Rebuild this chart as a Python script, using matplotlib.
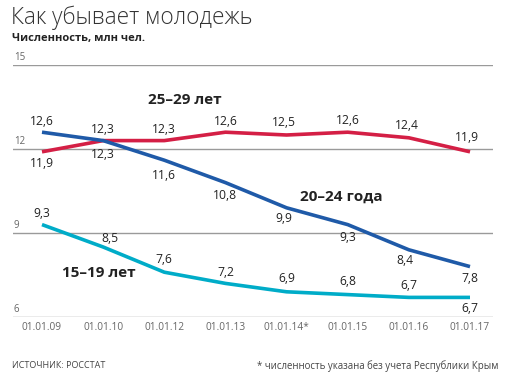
import matplotlib
matplotlib.use("Agg")
import matplotlib.pyplot as plt

dates = ["01.01.09", "01.01.10", "01.01.12", "01.01.13", "01.01.14*", "01.01.15", "01.01.16", "01.01.17"]
age_25_29 = [11.9, 12.3, 12.3, 12.6, 12.5, 12.6, 12.4, 11.9]
age_20_24 = [12.6, 12.3, 11.6, 10.8, 9.9, 9.3, 8.4, 7.8]
age_15_19 = [9.3, 8.5, 7.6, 7.2, 6.9, 6.8, 6.7, 6.7]
yticks = [6, 9, 12, 15]

# label offsets (pixels, dx, dy) - positive dy is up
off_red = [(0, -12), (0, 11), (0, 11), (0, 11), (-3, 13), (0, 12), (-2, 12), (-3, 14)]
off_blue = [(0, 11), (0, -14), (0, -15), (0, -13), (-3, -11), (0, -13), (-4, -11), (0, -12)]
off_cyan = [(0, 11), (7, 9), (0, 13), (0, 11), (0, 13), (0, 13), (0, 12), (0, -11)]

RED = "#d41f45"
BLUE = "#1f5aa8"
CYAN = "#00acc8"
TXT = "#222222"
GRAY = "#666666"

W, H = 506, 380
fig = plt.figure(figsize=(W / 100, H / 100), dpi=100)
fig.patch.set_facecolor("white")

x0, x1 = 13, 493
ytop, ybot = 65, 317
ax = fig.add_axes([x0 / W, 1 - ybot / H, (x1 - x0) / W, (ybot - ytop) / H])
sp = (470 - 42) / 7
ax.set_xlim(-(42 - x0) / sp, 7 + (x1 - 470) / sp)
ax.set_ylim(6, 15)
for s in ax.spines.values():
    s.set_visible(False)
ax.set_xticks([])
ax.set_yticks([])
ax.patch.set_alpha(0)

for yv in yticks:
    ax.axhline(yv, color="#9a9a9a", lw=1.0, zorder=1)

xs = list(range(len(dates)))
font = "Open Sans"
for vals, col, offs in [(age_25_29, RED, off_red), (age_20_24, BLUE, off_blue), (age_15_19, CYAN, off_cyan)]:
    ax.plot(xs, vals, color=col, lw=2.6, solid_capstyle="butt", zorder=3)
    for xi, v, (dx, dy) in zip(xs, vals, offs):
        ax.annotate(f"{v:.1f}".replace(".", ","), (xi, v), xytext=(dx, dy),
                    textcoords="offset pixels", ha="center", va="center",
                    fontsize=8.7, color=TXT, family=font, zorder=4)

# y tick labels
for yv in yticks:
    ax.annotate(str(yv), (0, yv), xycoords=("axes fraction", "data"), xytext=(1, 2),
                textcoords="offset pixels", ha="left", va="bottom",
                fontsize=7, color=GRAY, family=font)

# x tick labels
for xi, d in zip(xs, dates):
    ax.annotate(d, (xi, 6), xytext=(0, -11), textcoords="offset pixels",
                ha="center", va="center", fontsize=7.3, color=GRAY, family=font)

# series labels
def px(x, y):
    return x / W, 1 - y / H

fig.text(*px(185, 100), "25–29 лет", ha="center", va="center", fontsize=11,
         fontweight="bold", color=TXT, family=font)
fig.text(*px(341, 197), "20–24 года", ha="center", va="center", fontsize=11,
         fontweight="bold", color=TXT, family=font)
fig.text(*px(99, 273), "15–19 лет", ha="center", va="center", fontsize=11,
         fontweight="bold", color=TXT, family=font)

# titles
fig.text(*px(11, 18), "Как убывает молодежь", ha="left", va="center", fontsize=16.3,
         fontweight="light", color="#333333", family=font)
fig.text(*px(12, 38), "Численность, млн чел.", ha="left", va="center", fontsize=8,
         fontweight="bold", color=TXT, family=font)

# footer
fig.text(*px(12, 366), "ИСТОЧНИК: РОССТАТ", ha="left", va="center", fontsize=6.5,
         color="#444444", family=font)
fig.text(*px(498, 366), "* численность указана без учета Республики Крым", ha="right",
         va="center", fontsize=6.9, color="#444444", family=font)

fig.savefig("out.png", dpi=100, facecolor="white")
